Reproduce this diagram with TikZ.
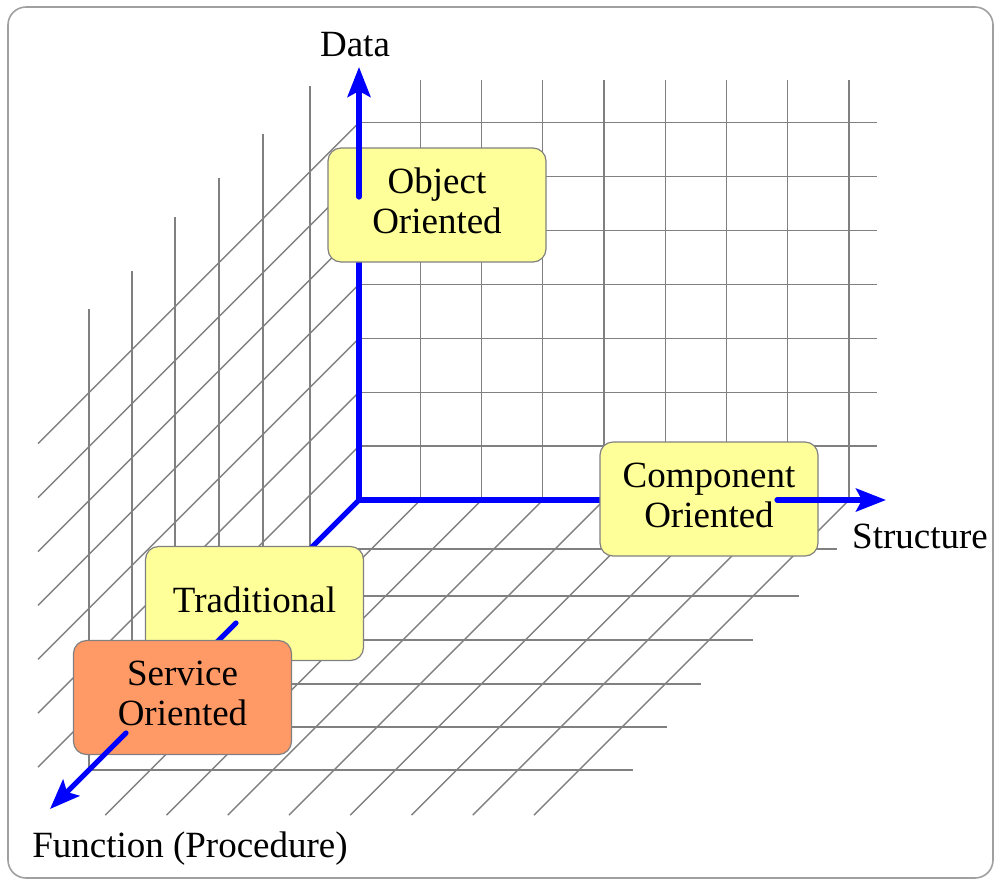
\documentclass[tikz,border=0pt]{standalone}
\usepackage{fontspec}
\setmainfont{Liberation Serif}
\usetikzlibrary{arrows.meta}
\definecolor{gridgray}{HTML}{808080}
\definecolor{framegray}{HTML}{A0A0A0}
\definecolor{boxyellow}{HTML}{FFFF99}
\definecolor{boxorange}{HTML}{FF9966}
\definecolor{axisblue}{HTML}{0000FF}

\begin{document}
\begin{tikzpicture}[x=0.5pt,y=-0.5pt,
  gridline/.style={draw=gridgray,line width=0.7pt},
  axisline/.style={draw=axisblue,line width=2.6pt},
  axisarrow/.style={axisline,line cap=round,-{Stealth[length=15pt,width=11.5pt,inset=3pt]}},
  paradigm/.style={draw=gridgray,line width=0.6pt,rounded corners=6.5pt,
    minimum width=109pt,minimum height=57pt,inner sep=0pt,align=center,
    font=\fontsize{18.5}{20}\selectfont},
  axislabel/.style={font=\fontsize{18.5}{20}\selectfont,inner sep=0pt,anchor=base}]

\useasboundingbox (0,0) rectangle (997,880);
\draw[draw=framegray,line width=0.8pt,rounded corners=9pt] (8,7) rectangle (993,878);

% back wall (data / structure plane)
\foreach \i in {1,...,8}
  \draw[gridline] ({359+61.25*\i},80) -- ({359+61.25*\i},500);
\foreach \j in {1,...,7}
  \draw[gridline] (359,{500-53.9*\j}) -- (877,{500-53.9*\j});

% left wall (data / function plane)
\foreach \j in {1,...,7}
  \draw[gridline] (359,{500-53.9*\j}) -- (38,{821-53.9*\j});
\foreach \d/\t in {49/86,96/134,140/178,184/217,227/271,270/309}
  \draw[gridline] ({359-\d},\t) -- ({359-\d},{500+\d});

% floor (structure / function plane)
\foreach \d/\r in {49/837,96/799,140/753,184/701,227/667,270/633}
  \draw[gridline] ({359-\d},{500+\d}) -- (\r,{500+\d});
\foreach \i in {1,...,8}
  \draw[gridline] ({359+61.25*\i},500) -- ({44+61.25*\i},815);

% axis points
\coordinate (origin) at (359,500);
\coordinate (dataStart) at (359,197);
\coordinate (dataTip) at (359,67);
\coordinate (structStart) at (777,500);
\coordinate (structTip) at (886,500);
\coordinate (funcMid) at (236,623);
\coordinate (funcStart) at (126,733);
\coordinate (funcTip) at (50,809);

% axes running behind the boxes
\draw[axisline,line join=miter] (structStart) -- (origin) -- (dataStart);
\draw[axisline] (origin) -- (funcStart);

% paradigm boxes
\node[paradigm,fill=boxyellow] (object) at (437,205) {Object\\Oriented\vphantom{p}};
\node[paradigm,fill=boxyellow] (component) at (709,499) {Component\\Oriented\vphantom{p}};
\node[paradigm,fill=boxyellow] (traditional) at (254.5,603.5) {Traditional\vphantom{p}};
\draw[axisline,line cap=round] (funcMid) -- (funcStart);
\node[paradigm,fill=boxorange] (service) at (182.5,697.5) {Service\\Oriented\vphantom{p}};

% arrow heads leaving the boxes
\draw[axisarrow] (dataStart) -- (dataTip);
\draw[axisarrow] (structStart) -- (structTip);
\draw[axisarrow] (funcStart) -- (funcTip);

% axis labels
\node[axislabel] (dataLabel) at (355,56) {Data};
\node[axislabel] (structLabel) at (920,548) {Structure};
\node[axislabel] (funcLabel) at (190,857) {Function (Procedure)};
\end{tikzpicture}
\end{document}
